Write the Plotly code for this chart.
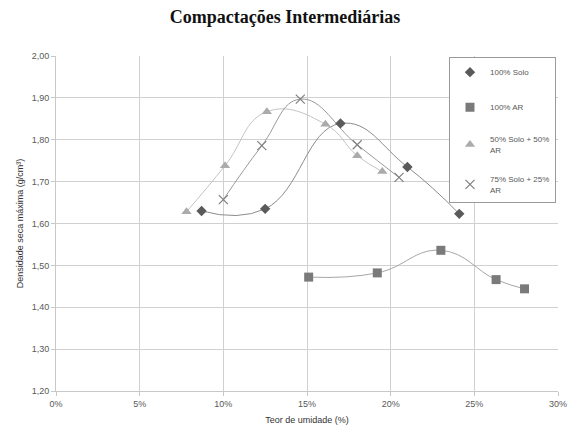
import plotly.graph_objects as go

# Moisture content (%) and maximum dry density (g/cm³) for each mix
solo100_x = [8.7, 12.5, 17.0, 21.0, 24.1]
solo100_y = [1.630, 1.635, 1.839, 1.735, 1.623]

ar100_x = [15.1, 19.2, 23.0, 26.3, 28.0]
ar100_y = [1.472, 1.482, 1.536, 1.466, 1.444]

mix50_x = [7.8, 10.1, 12.6, 16.1, 18.0, 19.5]
mix50_y = [1.628, 1.738, 1.867, 1.837, 1.762, 1.724]

mix75_x = [10.0, 12.3, 14.6, 18.0, 20.5]
mix75_y = [1.657, 1.786, 1.897, 1.788, 1.710]

series_names = ["100% Solo", "100% AR", "50% Solo + 50%<br>AR", "75% Solo + 25%<br>AR"]

x_ticks = [0, 5, 10, 15, 20, 25, 30]
x_tick_labels = [f"{v}%" for v in x_ticks]
y_ticks = [1.20, 1.30, 1.40, 1.50, 1.60, 1.70, 1.80, 1.90, 2.00]

series = [
    (solo100_x, solo100_y, series_names[0], "diamond", 8, "#5a5a5a", "#8c8c8c"),
    (ar100_x, ar100_y, series_names[1], "square", 9, "#7a7a7a", "#a6a6a6"),
    (mix50_x, mix50_y, series_names[2], "triangle-up", 9, "#ababab", "#c4c4c4"),
    (mix75_x, mix75_y, series_names[3], "x-thin", 9, "#7f7f7f", "#9a9a9a"),
]

fig = go.Figure()

# Smoothed connecting curves (no legend entries)
for xs, ys, name, sym, size, mcol, lcol in series:
    fig.add_trace(go.Scatter(
        x=xs, y=ys, mode="lines",
        line=dict(color=lcol, width=1, shape="spline", smoothing=1.3),
        showlegend=False, hoverinfo="skip",
    ))

# Markers shown in the legend
for i, (xs, ys, name, sym, size, mcol, lcol) in enumerate(series):
    marker = dict(symbol=sym, size=size, color=mcol)
    if sym == "x-thin":
        marker["line"] = dict(color=mcol, width=1.2)
    else:
        marker["line"] = dict(width=0)
    fig.add_trace(go.Scatter(
        x=xs, y=ys, mode="markers", name=name, marker=marker,
        legendgroup=f"g{i}",
    ))

axis_font = dict(family="Liberation Sans, Arial, sans-serif", size=9, color="#595959")
title_font = dict(family="Liberation Sans, Arial, sans-serif", size=9, color="#333333")

fig.update_layout(
    width=570, height=442,
    margin=dict(l=56, r=12, t=56, b=51),
    paper_bgcolor="white", plot_bgcolor="white",
    separators=", ",
    title=dict(
        text="<b>Compactações Intermediárias</b>",
        x=0.5, xanchor="center", y=0.962, yanchor="middle",
        font=dict(family="Liberation Serif, Times New Roman, serif", size=18, color="#111111"),
    ),
    xaxis=dict(
        range=[0, 30], tickvals=x_ticks, ticktext=x_tick_labels,
        automargin=False,
        showgrid=True, gridcolor="#d0d0d0", gridwidth=1,
        showline=True, linecolor="#c8c8c8", linewidth=1,
        ticks="outside", ticklen=4, tickcolor="#c8c8c8",
        zeroline=False, tickfont=axis_font,
        title=dict(text="Teor de umidade (%)", font=title_font, standoff=8),
    ),
    yaxis=dict(
        range=[1.20, 2.00], tickvals=y_ticks, tickformat=".2f",
        automargin=False,
        showgrid=True, gridcolor="#d0d0d0", gridwidth=1,
        showline=True, linecolor="#c8c8c8", linewidth=1,
        ticks="outside", ticklen=4, tickcolor="#c8c8c8",
        zeroline=False, tickfont=axis_font,
        title=dict(text="Densidade seca máxima (g/cm³)", font=title_font, standoff=6),
    ),
    legend=dict(
        x=0.996, xanchor="right", y=0.998, yanchor="top",
        bgcolor="white", bordercolor="#9a9a9a", borderwidth=1,
        font=dict(family="Liberation Sans, Arial, sans-serif", size=8, color="#595959"),
        tracegroupgap=16, itemwidth=30,
    ),
)

fig.write_html("out.html")
